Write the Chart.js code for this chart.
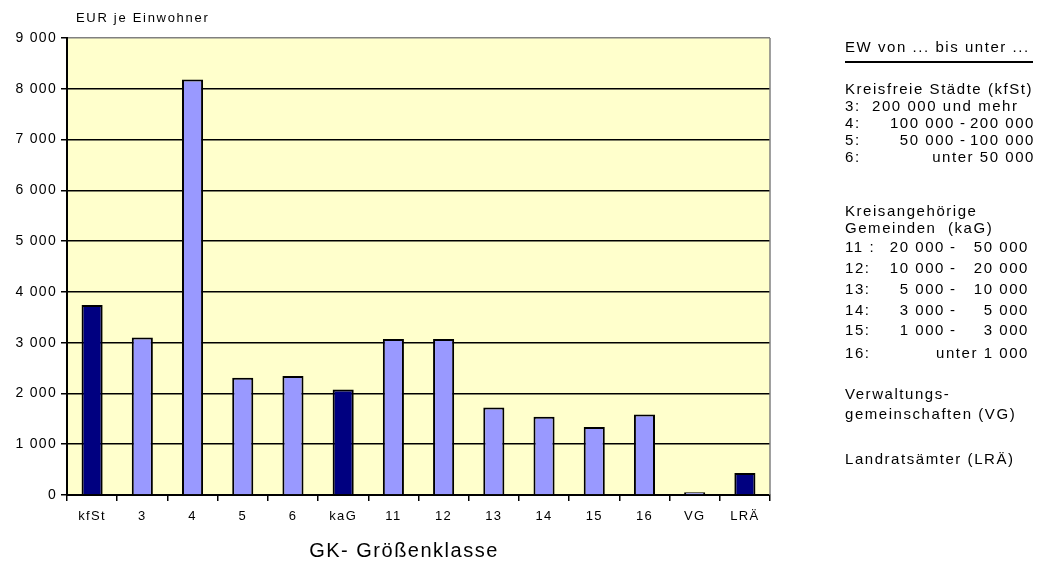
<!DOCTYPE html>
<html lang="de">
<head>
<meta charset="utf-8">
<title>EUR je Einwohner nach Größenklasse</title>
<script src="https://cdn.jsdelivr.net/npm/chart.js@4/dist/chart.umd.min.js"></script>
<style>
  html, body { margin:0; padding:0; background:#fff; }
  #wrap { position:relative; width:1047px; height:564px; overflow:hidden; }
  #chart { position:absolute; left:0; top:0; }
  #legend { position:absolute; left:845px; top:0; width:202px; font:15px "Liberation Sans", Arial, sans-serif; letter-spacing:1.55px; color:#000; }
  #legend .ln { position:absolute; left:0; height:18px; line-height:18px; white-space:pre; width:202px; }
  #legend .key { position:absolute; left:0; }
  #legend .r { position:absolute; text-align:right; }
  #legend .head { border-bottom:2px solid #000; width:188px; padding-bottom:5px; }
</style>
</head>
<body>
<div id="wrap">
  <canvas id="chart" width="1047" height="564"></canvas>
  <div id="legend"></div>
</div>
<script>
const categories = ['kfSt', '3', '4', '5', '6', 'kaG', '11', '12', '13', '14', '15', '16', 'VG', 'LRÄ'];
const values = [3742, 3103, 8184, 2309, 2342, 2076, 3073, 3073, 1725, 1540, 1340, 1587, 55, 435];
const totals = ['kfSt', 'kaG', 'LRÄ'];   // Summenbalken (dunkel)
const yTickLabels = ['0', '1 000', '2 000', '3 000', '4 000', '5 000', '6 000', '7 000', '8 000', '9 000'];
const yUnit = 'EUR je Einwohner';
const xTitle = 'GK- Größenklasse';

// Legende rechts: [Zeile y, Schlüssel, von, bis]
const kfStRows = [
  [106, '3:', '200 000 und mehr'],
  [123, '4:', '100 000', '200 000'],
  [140, '5:', '50 000', '100 000'],
  [157, '6:', null, 'unter 50 000']
];
const kaGRows = [
  [247, '11 :', '20 000', '50 000'],
  [268, '12:', '10 000', '20 000'],
  [289, '13:', '5 000', '10 000'],
  [310, '14:', '3 000', '5 000'],
  [330, '15:', '1 000', '3 000'],
  [353, '16:', null, 'unter 1 000']
];
const textLines = [
  [89, 'Kreisfreie Städte (kfSt)'],
  [211, 'Kreisangehörige'],
  [228, 'Gemeinden  (kaG)'],
  [394, 'Verwaltungs-'],
  [414, 'gemeinschaften (VG)'],
  [459, 'Landratsämter (LRÄ)']
];

const $ = (id) => document.getElementById(id);
const FONT = '"Liberation Sans", Arial, sans-serif';

function legendLine(y, html) {
  const d = document.createElement('div');
  d.className = 'ln';
  d.style.top = (y - 9) + 'px';
  d.innerHTML = html;
  $('legend').appendChild(d);
  return d;
}
function rangeRows(rows, colA, colB) {
  rows.forEach(([y, key, from, to]) => {
    let h = `<span class="key">${key}</span>`;
    if (to === undefined) h += `<span class="key" style="left:27px">${from}</span>`;
    else {
      if (from) h += `<span class="r" style="right:${202 - colA}px">${from}</span><span class="key" style="left:${colA + 5}px">-</span>`;
      h += `<span class="r" style="right:${202 - colB}px">${to}</span>`;
    }
    legendLine(y, h);
  });
}
function buildLegend() {
  const head = legendLine(47, 'EW von ... bis unter ...');
  head.classList.add('head');
  textLines.forEach(([y, t]) => legendLine(y, t));
  rangeRows(kfStRows, 110, 190);
  rangeRows(kaGRows, 100, 184);
}

const plotDeco = {
  id: 'plotDeco',
  beforeUpdate(chart) { chart.ctx.letterSpacing = '1.3px'; },
  beforeDraw(chart) {
    const {ctx, chartArea: a} = chart;
    ctx.letterSpacing = '1.3px';
    ctx.save();
    ctx.fillStyle = '#FFFFCC';
    ctx.fillRect(a.left, a.top, a.right - a.left, a.bottom - a.top);
    ctx.restore();
  },
  afterDraw(chart) {
    const {ctx, chartArea: a} = chart;
    ctx.save();
    ctx.strokeStyle = '#808080';
    ctx.lineWidth = 1.5;
    ctx.beginPath();
    ctx.moveTo(a.right, a.top); ctx.lineTo(a.right, a.bottom);
    ctx.stroke();
    ctx.fillStyle = '#000';
    ctx.textBaseline = 'middle';
    ctx.letterSpacing = '1.7px';
    ctx.font = '13px ' + FONT;
    ctx.textAlign = 'left';
    ctx.fillText(yUnit, a.left + 9, 18);
    ctx.letterSpacing = '1.5px';
    ctx.font = '20px ' + FONT;
    ctx.textAlign = 'center';
    ctx.fillText(xTitle, 404, 551);
    ctx.restore();
  }
};

function drawChart() {
  new Chart($('chart'), {
    type: 'bar',
    data: {
      labels: categories,
      datasets: [{
        data: values,
        backgroundColor: categories.map(c => totals.includes(c) ? '#000080' : '#9999FF'),
        borderColor: '#000',
        borderWidth: 2,
        barPercentage: 0.42,
        categoryPercentage: 1
      }]
    },
    options: {
      responsive: false,
      animation: false,
      layout: {padding: {left: 0, top: 38, right: 277, bottom: 0}},
      plugins: {legend: {display: false}, tooltip: {enabled: false}},
      scales: {
        x: {
          grid: {drawOnChartArea: false, drawTicks: true, tickLength: 6, offset: true, color: '#000', lineWidth: 1.5},
          border: {display: true, color: '#000', width: 2},
          ticks: {color: '#000', font: {family: FONT, size: 13}, padding: 8, maxRotation: 0, autoSkip: false},
          afterFit: (s) => { s.height = 69; }
        },
        y: {
          min: 0, max: 9000,
          ticks: {stepSize: 1000, color: '#000', font: {family: FONT, size: 14}, padding: 4,
                  callback: (v, i) => yTickLabels[i]},
          grid: {color: (c) => c.tick && c.tick.value === 9000 ? '#808080' : '#000', tickColor: '#000',
                 lineWidth: 1.5, tickLength: 6},
          border: {color: '#000', width: 2},
          afterFit: (s) => { s.width = 67; }
        }
      }
    },
    plugins: [plotDeco]
  });
}

buildLegend();
drawChart();
</script>
</body>
</html>
